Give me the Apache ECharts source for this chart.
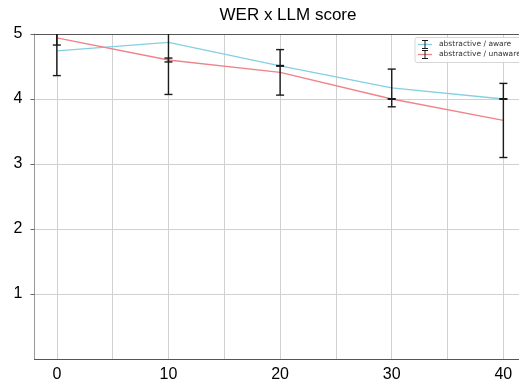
<!DOCTYPE html>
<html>
<head>
<meta charset="utf-8">
<script src="https://cdn.jsdelivr.net/npm/echarts@6/dist/echarts.min.js"></script>
<style>html,body{margin:0;padding:0;background:#fff}#c{width:519px;height:383px}</style>
</head>
<body>
<div id="c"></div>
<script>
var xs = [0, 10, 20, 30, 40];
var awareMean = [4.74, 4.87, 4.51, 4.17, 4.00];
var awareErr = [0.38, 0.80, 0.005, 0.29, 0.005];
var unawareMean = [4.94, 4.60, 4.41, 4.00, 3.67];
var unawareErr = [0.11, 0.03, 0.35, 0.005, 0.57];
var xLabelTicks = [0, 10, 20, 30, 40];
var xGridTicks = [0, 5, 10, 15, 20, 25, 30, 35, 40];
var seriesNames = ['abstractive / aware', 'abstractive / unaware'];
var colors = ['#84cfe2', '#f0828a'];

function pts(means) { return xs.map(function (x, i) { return [x, means[i]]; }); }
function errs(means, e) { return xs.map(function (x, i) { return [x, means[i] - e[i], means[i] + e[i]]; }); }

function renderErr(params, api) {
  var x = api.value(0), lo = api.value(1), hi = api.value(2);
  var a = api.coord([x, lo]), b = api.coord([x, hi]);
  var w = 4;
  var st = { stroke: '#1a1a1a', lineWidth: 1.4 };
  return {
    type: 'group',
    children: [
      { type: 'line', shape: { x1: a[0], y1: a[1], x2: b[0], y2: b[1] }, style: st },
      { type: 'line', shape: { x1: a[0] - w, y1: a[1], x2: a[0] + w, y2: a[1] }, style: st },
      { type: 'line', shape: { x1: b[0] - w, y1: b[1], x2: b[0] + w, y2: b[1] }, style: st }
    ]
  };
}

var chart = echarts.init(document.getElementById('c'), null, { renderer: 'canvas' });
var font = 'Liberation Sans, Arial, Helvetica, sans-serif';
var legY = [44.5, 54.5];
var legendGraphics = [
  { type: 'rect', shape: { x: 415, y: 37.5, width: 110, height: 25, r: 2 }, style: { fill: 'rgba(255,255,255,0.85)', stroke: '#d6d6d6', lineWidth: 1 }, z: 100 }
];
seriesNames.forEach(function (n, i) {
  var y = legY[i];
  legendGraphics.push(
    { type: 'line', shape: { x1: 418, y1: y, x2: 432, y2: y }, style: { stroke: colors[i], lineWidth: 1.3 }, z: 101 },
    { type: 'line', shape: { x1: 425, y1: y - 4, x2: 425, y2: y + 4 }, style: { stroke: '#1a1a1a', lineWidth: 1 }, z: 102 },
    { type: 'line', shape: { x1: 422, y1: y - 4, x2: 428, y2: y - 4 }, style: { stroke: '#1a1a1a', lineWidth: 1 }, z: 102 },
    { type: 'line', shape: { x1: 422, y1: y + 4, x2: 428, y2: y + 4 }, style: { stroke: '#1a1a1a', lineWidth: 1 }, z: 102 },
    { type: 'text', x: 439, y: y, style: { text: n, fontSize: 7.5, fontFamily: 'DejaVu Sans', fill: '#333', verticalAlign: 'middle', align: 'left' }, z: 102 }
  );
});

chart.setOption({
  animation: false,
  title: {
    text: 'WER x LLM score', left: 283, top: 2, textAlign: 'center',
    textStyle: { fontSize: 17, fontWeight: 'normal', color: '#000', fontFamily: font }
  },
  grid: { left: 34.5, right: 0, top: 34, bottom: 23, containLabel: false },
  xAxis: [{
    type: 'value', min: -2, max: 41.4,
    axisLine: { show: true, onZero: false, lineStyle: { color: '#555', width: 1 } },
    axisTick: { show: false, customValues: xGridTicks },
    axisLabel: { customValues: xLabelTicks, fontSize: 16, color: '#000', fontFamily: font, margin: 8 },
    splitLine: { show: true, lineStyle: { color: '#d0d0d0', width: 1 } }
  }, {
    type: 'value', position: 'top', min: -2, max: 41.4,
    axisLine: { show: true, onZero: false, lineStyle: { color: '#555', width: 1 } },
    axisTick: { show: false }, axisLabel: { show: false }, splitLine: { show: false }
  }],
  yAxis: {
    type: 'value', min: 0, max: 5, interval: 1, position: 'left',
    axisLine: { show: true, onZero: false, lineStyle: { color: '#999', width: 1 } },
    axisTick: { show: true, length: 4, lineStyle: { color: '#666' } },
    axisLabel: { fontSize: 16, color: '#000', fontFamily: font, margin: 12, showMinLabel: false },
    splitLine: { show: true, lineStyle: { color: '#d0d0d0', width: 1 } }
  },
  series: [
    { name: seriesNames[0], type: 'line', data: pts(awareMean), symbol: 'none', lineStyle: { color: colors[0], width: 1.3 }, z: 2 },
    { name: seriesNames[1], type: 'line', data: pts(unawareMean), symbol: 'none', lineStyle: { color: colors[1], width: 1.3 }, z: 2 },
    { type: 'custom', renderItem: renderErr, data: errs(awareMean, awareErr), encode: { x: 0, y: [1, 2] }, clip: true, z: 3 },
    { type: 'custom', renderItem: renderErr, data: errs(unawareMean, unawareErr), encode: { x: 0, y: [1, 2] }, clip: true, z: 3 }
  ],
  graphic: legendGraphics
});
</script>
</body>
</html>
